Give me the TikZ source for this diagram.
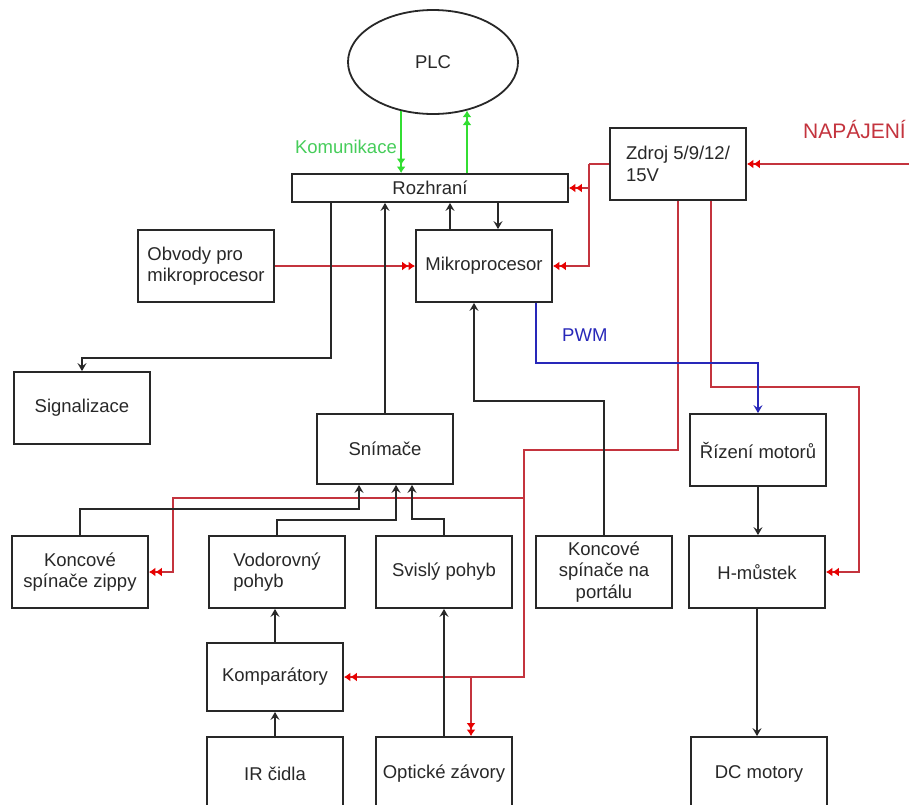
\documentclass[tikz,border=0pt]{standalone}
\usepackage{fontspec}
\setmainfont{Liberation Sans}
\usetikzlibrary{arrows.meta, calc, positioning, shapes.geometric}
\definecolor{pwrred}{RGB}{196,52,62}
\definecolor{tipred}{RGB}{232,0,0}
\definecolor{comgreen}{RGB}{50,222,50}
\definecolor{lblgreen}{RGB}{70,205,90}
\definecolor{pwmblue}{RGB}{40,40,185}
\definecolor{boxgray}{RGB}{40,40,40}

\begin{document}
\begin{tikzpicture}[x=1pt, y=-1pt,
    font=\fontsize{18.5}{21.5}\selectfont,
    box/.style={draw=boxgray, line width=1.8pt, minimum width=136pt, minimum height=72pt, inner sep=0pt, align=center, text=boxgray},
    sig/.style={draw=boxgray, line width=1.6pt, -{Stealth[length=8pt,width=9pt,inset=3pt]}},
    pwr/.style={draw=pwrred, line width=1.6pt, -{Latex[length=6.5pt,width=9pt,color=tipred]Latex[length=6.5pt,width=9pt,color=tipred]}},
    com/.style={draw=comgreen, line width=1.8pt, -{Latex[length=6.5pt,width=9pt,sep=1.5pt]Latex[length=6.5pt,width=9pt]}},
    pwm/.style={draw=pwmblue, line width=1.6pt, -{Stealth[length=8pt,width=9pt,inset=3pt]}}]
    \useasboundingbox (0,0) rectangle (909,804);
    \fill[white] (0,0) rectangle (909,804);
    \clip (0,0) rectangle (909,804);

    % bloky
    \node[draw=boxgray, line width=1.8pt, ellipse, minimum width=170pt, minimum height=104pt, inner sep=0pt, text=boxgray] (plc) at (433,62) {PLC};
    \node[box, minimum width=276pt, minimum height=28pt] (rozhrani) at (430,188) {Rozhraní};
    \node[box, align=left] (zdroj) at (678,164) {Zdroj 5/9/12/\\15V};
    \node[box] (mikro) at (484,266) {Mikroprocesor};
    \node[box, align=left] (obvody) at (206,266) {Obvody pro\\mikroprocesor};
    \node[box] (signaliz) at (82,408) {Signalizace};
    \node[box, minimum height=70pt] (snimace) at (385,449) {Snímače};
    \node[box] (rizeni) at (758,450) {Řízení motorů};
    \node[box] (zippy) at (80,572) {Koncové\\spínače zippy};
    \node[box, align=left] (vodor) at (277,572) {Vodorovný\\pohyb};
    \node[box] (svisly) at (444,572) {Svislý pohyb};
    \node[box] (portal) at (604,572) {Koncové\\spínače na\\portálu};
    \node[box] (hmustek) at (757,572) {H-můstek};
    \node[box, minimum height=68pt] (komp) at (275,677) {Komparátory};
    \node[box, minimum height=74pt] (ir) at (275,774) {IR čidla};
    \node[box, minimum height=74pt] (opt) at (444,774) {Optické závory};
    \node[box, minimum height=74pt] (dc) at (759,774) {DC motory};

    % popisky
    \node[text=lblgreen, anchor=east, inner sep=0pt] (komlabel) at (397,147) {Komunikace};
    \node[text=pwrred, anchor=east, inner sep=0pt, font=\fontsize{21}{24}\selectfont] (napajeni) at (906,129) {NAPÁJENÍ};
    \node[text=pwmblue, anchor=west, inner sep=0pt] (pwmlabel) at (562,335) {PWM};

    % komunikace s PLC
    \draw[com] (plc.237) -- (plc.237 |- rozhrani.north);
    \draw[com] (plc.305 |- rozhrani.north) -- (plc.305);

    % napajeni
    \coordinate (vstup) at (909,164);
    \coordinate (rozv1) at (589,164);
    \coordinate (rozv2) at (524,498);
    \coordinate (rozv3) at (471,677);
    \draw[pwr] (vstup) -- (zdroj.east);
    \draw[pwr, -] (zdroj.west) -- (rozv1);
    \draw[pwr] (rozv1) |- (rozhrani.east);
    \draw[pwr] (rozv1) |- (mikro.east);
    \draw[pwr] (obvody.east) -- (obvody.east -| mikro.west);
    \draw[pwr] (zdroj.south -| 711,0) |- (859,387) |- (hmustek.east);
    \draw[pwr] (zdroj.south -| 678,0) |- (524,450) -- (komp.east -| 524,0) -- (komp.east);
    \draw[pwr] (rozv2) -- (173,498) |- (zippy.east);
    \draw[pwr] (rozv3) -- (rozv3 |- opt.north);

    % PWM
    \draw[pwm] (mikro.south -| 536,0) -- (536,363) -| (rizeni.north);

    % signaly
    \draw[sig] (mikro.north -| 450,0) -- (rozhrani.south -| 450,0);
    \draw[sig] (rozhrani.south -| 498,0) -- (mikro.north -| 498,0);
    \draw[sig] (rozhrani.south -| 331,0) -- (331,358) -| (signaliz.north);
    \draw[sig] (snimace.north) -- (snimace.north |- rozhrani.south);
    \draw[sig] (portal.north) |- (474,401) -- (mikro.south -| 474,0);
    \draw[sig] (zippy.north) |- (359,509) -- (snimace.south -| 359,0);
    \draw[sig] (vodor.north) |- (396,520) -- (snimace.south -| 396,0);
    \draw[sig] (svisly.north) |- (412,519) -- (snimace.south -| 412,0);
    \draw[sig] (komp.north) -- (komp.north |- vodor.south);
    \draw[sig] (ir.north) -- (komp.south);
    \draw[sig] (opt.north) -- (opt.north |- svisly.south);
    \draw[sig] (rizeni.south) -- (rizeni.south |- hmustek.north);
    \draw[sig] (hmustek.south) -- (hmustek.south |- dc.north);
\end{tikzpicture}
\end{document}
